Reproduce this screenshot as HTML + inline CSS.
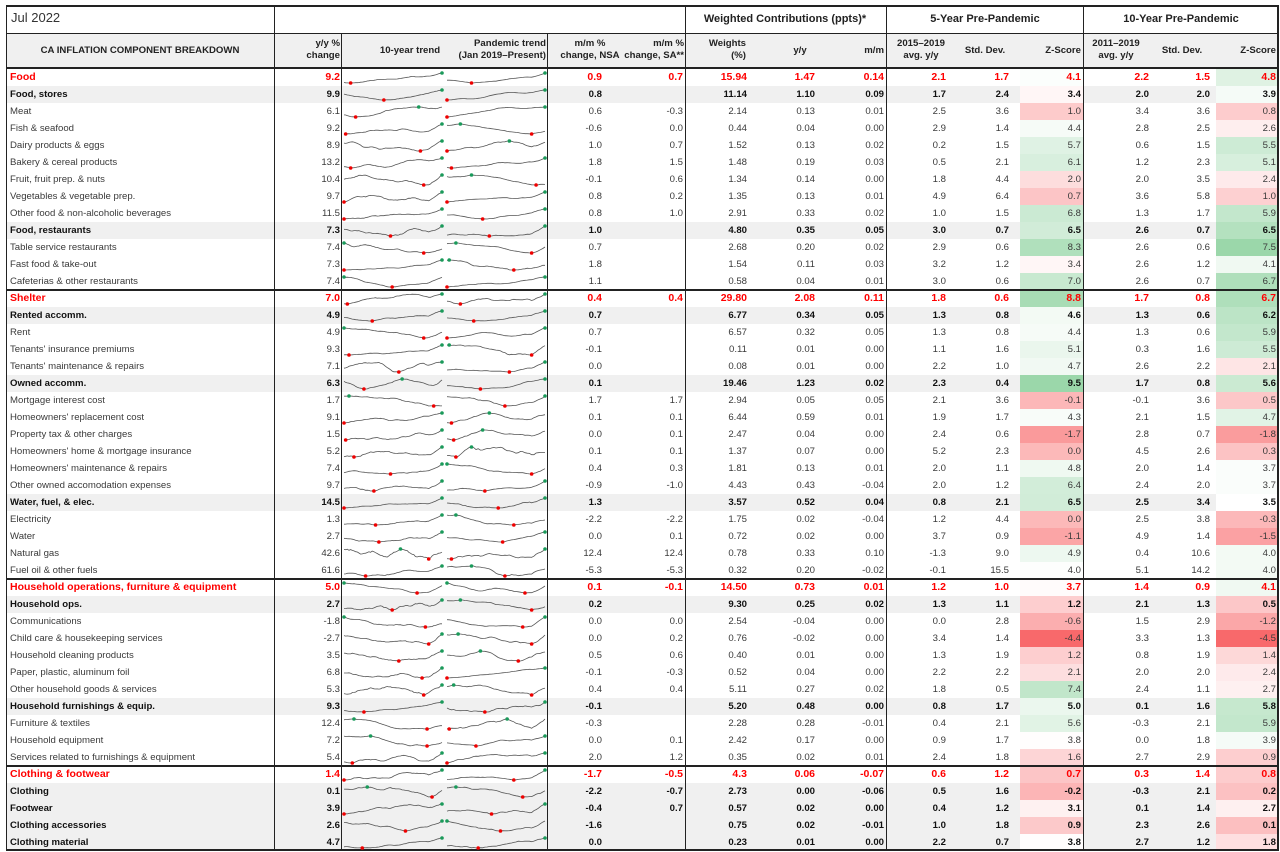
<!DOCTYPE html>
<html><head><meta charset="utf-8">
<style>
html,body{margin:0;padding:0;background:#fff;}
body{width:1280px;height:852px;position:relative;overflow:hidden;font-family:"Liberation Sans",sans-serif;color:#3a3a3a;}
.c{position:absolute;font-size:9.6px;line-height:17px;height:17px;white-space:nowrap;}
.h{position:absolute;font-size:9.6px;font-weight:bold;color:#222;line-height:12px;white-space:nowrap;}
.bg{position:absolute;}
.ln{position:absolute;background:#222;}
</style></head><body>
<div id="root"></div>
<svg id="sv" width="1280" height="852" style="position:absolute;left:0;top:0"></svg>
<script>
const R=[
["Food","9.2","0.9","0.7","15.94","1.47","0.14","2.1","1.7","4.1","2.2","1.5","4.8","s"],
["Food, stores","9.9","0.8","","11.14","1.10","0.09","1.7","2.4","3.4","2.0","2.0","3.9","b"],
["Meat","6.1","0.6","-0.3","2.14","0.13","0.01","2.5","3.6","1.0","3.4","3.6","0.8",""],
["Fish & seafood","9.2","-0.6","0.0","0.44","0.04","0.00","2.9","1.4","4.4","2.8","2.5","2.6",""],
["Dairy products & eggs","8.9","1.0","0.7","1.52","0.13","0.02","0.2","1.5","5.7","0.6","1.5","5.5",""],
["Bakery & cereal products","13.2","1.8","1.5","1.48","0.19","0.03","0.5","2.1","6.1","1.2","2.3","5.1",""],
["Fruit, fruit prep. & nuts","10.4","-0.1","0.6","1.34","0.14","0.00","1.8","4.4","2.0","2.0","3.5","2.4",""],
["Vegetables & vegetable prep.","9.7","0.8","0.2","1.35","0.13","0.01","4.9","6.4","0.7","3.6","5.8","1.0",""],
["Other food & non-alcoholic beverages","11.5","0.8","1.0","2.91","0.33","0.02","1.0","1.5","6.8","1.3","1.7","5.9",""],
["Food, restaurants","7.3","1.0","","4.80","0.35","0.05","3.0","0.7","6.5","2.6","0.7","6.5","b"],
["Table service restaurants","7.4","0.7","","2.68","0.20","0.02","2.9","0.6","8.3","2.6","0.6","7.5",""],
["Fast food & take-out","7.3","1.8","","1.54","0.11","0.03","3.2","1.2","3.4","2.6","1.2","4.1",""],
["Cafeterias & other restaurants","7.4","1.1","","0.58","0.04","0.01","3.0","0.6","7.0","2.6","0.7","6.7",""],
["Shelter","7.0","0.4","0.4","29.80","2.08","0.11","1.8","0.6","8.8","1.7","0.8","6.7","s"],
["Rented accomm.","4.9","0.7","","6.77","0.34","0.05","1.3","0.8","4.6","1.3","0.6","6.2","b"],
["Rent","4.9","0.7","","6.57","0.32","0.05","1.3","0.8","4.4","1.3","0.6","5.9",""],
["Tenants' insurance premiums","9.3","-0.1","","0.11","0.01","0.00","1.1","1.6","5.1","0.3","1.6","5.5",""],
["Tenants' maintenance & repairs","7.1","0.0","","0.08","0.01","0.00","2.2","1.0","4.7","2.6","2.2","2.1",""],
["Owned accomm.","6.3","0.1","","19.46","1.23","0.02","2.3","0.4","9.5","1.7","0.8","5.6","b"],
["Mortgage interest cost","1.7","1.7","1.7","2.94","0.05","0.05","2.1","3.6","-0.1","-0.1","3.6","0.5",""],
["Homeowners' replacement cost","9.1","0.1","0.1","6.44","0.59","0.01","1.9","1.7","4.3","2.1","1.5","4.7",""],
["Property tax & other charges","1.5","0.0","0.1","2.47","0.04","0.00","2.4","0.6","-1.7","2.8","0.7","-1.8",""],
["Homeowners' home & mortgage insurance","5.2","0.1","0.1","1.37","0.07","0.00","5.2","2.3","0.0","4.5","2.6","0.3",""],
["Homeowners' maintenance & repairs","7.4","0.4","0.3","1.81","0.13","0.01","2.0","1.1","4.8","2.0","1.4","3.7",""],
["Other owned accomodation expenses","9.7","-0.9","-1.0","4.43","0.43","-0.04","2.0","1.2","6.4","2.4","2.0","3.7",""],
["Water, fuel, & elec.","14.5","1.3","","3.57","0.52","0.04","0.8","2.1","6.5","2.5","3.4","3.5","b"],
["Electricity","1.3","-2.2","-2.2","1.75","0.02","-0.04","1.2","4.4","0.0","2.5","3.8","-0.3",""],
["Water","2.7","0.0","0.1","0.72","0.02","0.00","3.7","0.9","-1.1","4.9","1.4","-1.5",""],
["Natural gas","42.6","12.4","12.4","0.78","0.33","0.10","-1.3","9.0","4.9","0.4","10.6","4.0",""],
["Fuel oil & other fuels","61.6","-5.3","-5.3","0.32","0.20","-0.02","-0.1","15.5","4.0","5.1","14.2","4.0",""],
["Household operations, furniture & equipment","5.0","0.1","-0.1","14.50","0.73","0.01","1.2","1.0","3.7","1.4","0.9","4.1","s"],
["Household ops.","2.7","0.2","","9.30","0.25","0.02","1.3","1.1","1.2","2.1","1.3","0.5","b"],
["Communications","-1.8","0.0","0.0","2.54","-0.04","0.00","0.0","2.8","-0.6","1.5","2.9","-1.2",""],
["Child care & housekeeping services","-2.7","0.0","0.2","0.76","-0.02","0.00","3.4","1.4","-4.4","3.3","1.3","-4.5",""],
["Household cleaning products","3.5","0.5","0.6","0.40","0.01","0.00","1.3","1.9","1.2","0.8","1.9","1.4",""],
["Paper, plastic, aluminum foil","6.8","-0.1","-0.3","0.52","0.04","0.00","2.2","2.2","2.1","2.0","2.0","2.4",""],
["Other household goods & services","5.3","0.4","0.4","5.11","0.27","0.02","1.8","0.5","7.4","2.4","1.1","2.7",""],
["Household furnishings & equip.","9.3","-0.1","","5.20","0.48","0.00","0.8","1.7","5.0","0.1","1.6","5.8","b"],
["Furniture & textiles","12.4","-0.3","","2.28","0.28","-0.01","0.4","2.1","5.6","-0.3","2.1","5.9",""],
["Household equipment","7.2","0.0","0.1","2.42","0.17","0.00","0.9","1.7","3.8","0.0","1.8","3.9",""],
["Services related to furnishings & equipment","5.4","2.0","1.2","0.35","0.02","0.01","2.4","1.8","1.6","2.7","2.9","0.9",""],
["Clothing & footwear","1.4","-1.7","-0.5","4.3","0.06","-0.07","0.6","1.2","0.7","0.3","1.4","0.8","s"],
["Clothing","0.1","-2.2","-0.7","2.73","0.00","-0.06","0.5","1.6","-0.2","-0.3","2.1","0.2","b"],
["Footwear","3.9","-0.4","0.7","0.57","0.02","0.00","0.4","1.2","3.1","0.1","1.4","2.7","b"],
["Clothing accessories","2.6","-1.6","","0.75","0.02","-0.01","1.0","1.8","0.9","2.3","2.6","0.1","b"],
["Clothing material","4.7","0.0","","0.23","0.01","0.00","2.2","0.7","3.8","2.7","1.2","1.8","b"]];
const ends=[340,602,683,747,815,884,946,1009,1081,1149,1210,1276];
let h='';
const T=69,RH=17;
function zc(v,mid,min,max){v=parseFloat(v);
 if(v>=mid){let t=Math.min(1,(v-mid)/(max-mid));return `rgb(${Math.round(255-t*100)},${Math.round(255-t*40)},${Math.round(255-t*85)})`;}
 let t=Math.min(1,(mid-v)/(mid-min));return `rgb(${Math.round(255-t*7)},${Math.round(255-t*150)},${Math.round(255-t*148)})`;}
R.forEach((r,i)=>{const y=T+i*RH;const t=r[13];
 if(t==='b')h+=`<div class="bg" style="left:6px;top:${y}px;width:1272px;height:${RH}px;background:#f0f0f0"></div>`;
 h+=`<div class="bg" style="left:1020px;top:${y}px;width:63px;height:${RH}px;background:${zc(r[9],3.9,-4.4,9.5)}"></div>`;
 h+=`<div class="bg" style="left:1216px;top:${y}px;width:61px;height:${RH}px;background:${zc(r[12],3.5,-4.5,7.5)}"></div>`;
 const st=t==='s'?'color:#f00;font-weight:bold;font-size:10.5px;':t==='b'?'color:#111;font-weight:bold;':'';
 h+=`<div class="c" style="left:10px;top:${y}px;${st}">${r[0].replace(/&/g,'&amp;')}</div>`;
 for(let k=1;k<13;k++){if(!r[k])continue;h+=`<div class="c" style="right:${1280-ends[k-1]}px;top:${y}px;${st}">${r[k]}</div>`;}
});
function L(x,y,w,hh){h+=`<div class="ln" style="left:${x}px;top:${y}px;width:${w}px;height:${hh}px"></div>`;}
L(6,5,1273,2);L(6,33,1273,1);L(6,67,1273,2);L(6,849,1273,2);
[289,578,765].forEach(y=>L(6,y,1273,2));
L(6,5,1,846);L(1277,5,2,846);
[274,685,886,1083].forEach(x=>L(x,5,1,846));
[341,547].forEach(x=>L(x,33,1,818));
h=`<div class="bg" style="left:6px;top:34px;width:1272px;height:33px;background:#f0f0f0"></div>`+h;
function H(txt,x,y,al,fs){const s=al==='r'?`right:${1280-x}px;text-align:right`:al==='c'?`left:${x-100}px;width:200px;text-align:center`:`left:${x}px`;h+=`<div class="h" style="${s};top:${y}px;${fs?'font-size:'+fs+'px':''}">${txt}</div>`;}
h+=`<div style="position:absolute;left:11px;top:10px;font-size:13px;color:#333">Jul 2022</div>`;
H('Weighted Contributions (ppts)*',785,13,'c',11);H('5-Year Pre-Pandemic',985,13,'c',11);H('10-Year Pre-Pandemic',1181,13,'c',11);
H('CA INFLATION COMPONENT BREAKDOWN',140,45,'c');
H('y/y %<br>change',340,38,'r');H('10-year trend',410,45,'c');
H('Pandemic trend<br>(Jan 2019–Present)',546,38,'r');
H('m/m %<br>change, NSA',590,38,'c');H('m/m %<br>change, SA**',684,38,'r');
H('Weights<br>(%)',746,38,'r');H('y/y',800,45,'c');H('m/m',884,45,'r');
H('2015–2019<br>avg. y/y',921,38,'c');H('Std. Dev.',985,45,'c');H('Z-Score',1081,45,'r');
H('2011–2019<br>avg. y/y',1116,38,'c');H('Std. Dev.',1182,45,'c');H('Z-Score',1276,45,'r');
document.getElementById('root').innerHTML=h;
let seed=7;function rnd(){seed=(seed*16807)%2147483647;return seed/2147483647;}
let s='';
function spark(x0,w,y,n){let v=[],a=0,d=0;for(let i=0;i<n;i++){d=d*0.85+(rnd()-0.5)*0.35;a+=d+(rnd()-0.5)*0.3;v.push(a);}
 for(let i=Math.floor(n*0.85);i<n;i++)v[i]+=(i-n*0.85)*0.4;
 let mn=Math.min(...v),mx=Math.max(...v);let pts=v.map((q,i)=>[x0+i*w/(n-1),y+13-(q-mn)/(mx-mn||1)*10]);
 s+=`<polyline points="${pts.map(p=>p[0].toFixed(1)+','+p[1].toFixed(1)).join(' ')}" fill="none" stroke="#555" stroke-width="0.8"/>`;
 const im=v.indexOf(mn),ix=v.indexOf(mx);
 s+=`<circle cx="${pts[im][0]}" cy="${pts[im][1]}" r="1.8" fill="#e00"/><circle cx="${pts[ix][0]}" cy="${pts[ix][1]}" r="1.8" fill="#1a9a5a"/>`;}
R.forEach((r,i)=>{const y=T+i*RH+1;spark(344,98,y,60);spark(447,98,y,45);});
document.getElementById('sv').innerHTML=s;
</script>
</body></html>
